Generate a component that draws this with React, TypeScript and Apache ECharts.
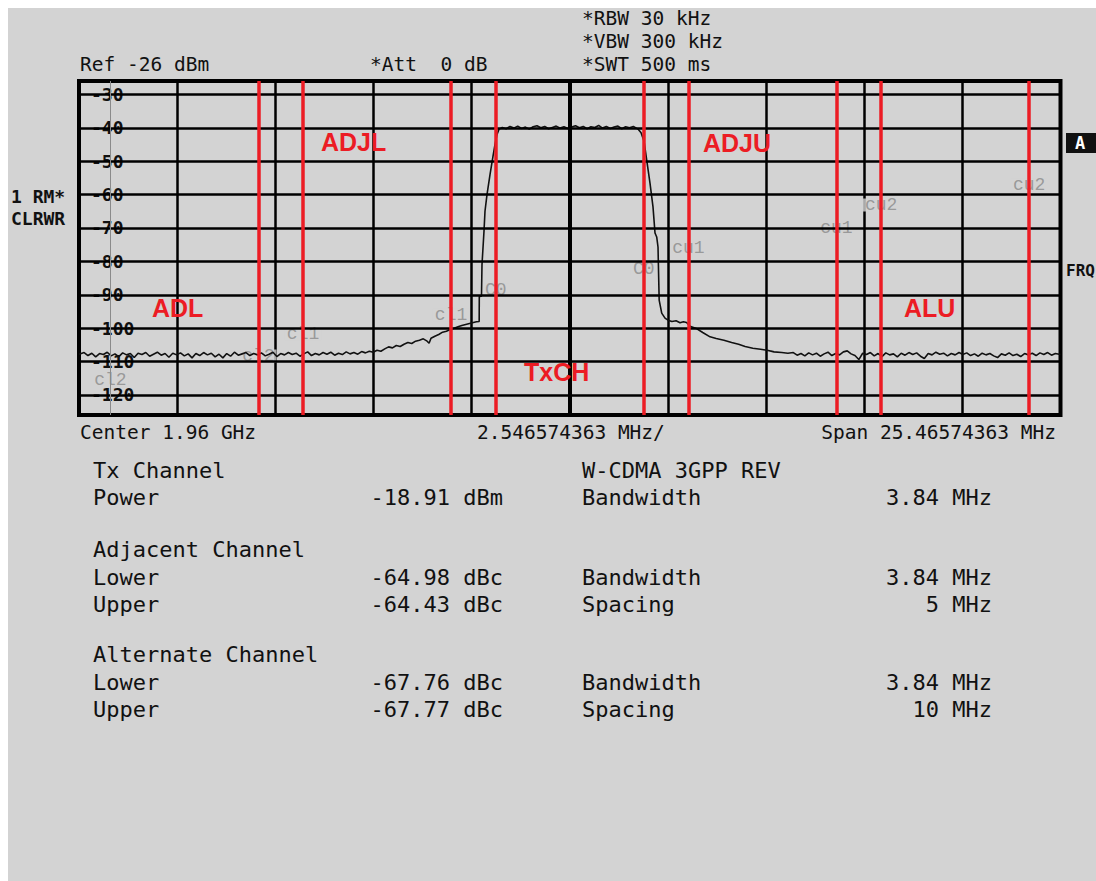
import React, { useEffect, useRef } from "react";
import * as echarts from "echarts";

// Sweep settings (MHz offsets from the 1.96 GHz centre, levels in dBm)
const SPAN_MHZ = 25.46574363;
const DIV_MHZ = 2.546574363;
const REF_DBM = -26;
const BOTTOM_DBM = -126;

const levelTicks = [-30, -40, -50, -60, -70, -80, -90, -100, -110, -120];
// Channel borders of the adjacent / alternate channels (red)
const channelEdges = [-8.08, -6.92, -3.08, -1.92, 1.92, 3.08, 6.92, 8.08, 11.92];
// Outer border of the lower alternate channel (grey)
const outerEdges = [-11.92];

// Trace: [MHz, dBm]
const lowerFloor = [
  [-12.73, -107.8], [-12.6, -107.3], [-12.5, -108.2], [-12.4, -107.5], [-12.3, -108.6],
  [-12.2, -107.6], [-12.1, -107.9], [-12.0, -107.2], [-11.9, -108.3], [-11.8, -107.7],
  [-11.7, -108.5], [-11.6, -107.4], [-11.5, -108.0], [-11.4, -107.6], [-11.3, -108.8],
  [-11.2, -107.5], [-11.1, -107.9], [-11.0, -107.3], [-10.9, -108.4], [-10.8, -107.8],
  [-10.7, -107.2], [-10.6, -108.1], [-10.5, -107.6], [-10.4, -108.7], [-10.3, -107.5],
  [-10.2, -108.0], [-10.1, -107.4], [-10.0, -108.3], [-9.9, -107.7], [-9.8, -108.9],
  [-9.7, -107.6], [-9.6, -108.2], [-9.5, -107.3], [-9.4, -108.0], [-9.3, -107.5],
  [-9.2, -108.6], [-9.1, -107.8], [-9.0, -108.9], [-8.9, -107.6], [-8.8, -108.4],
  [-8.7, -107.2], [-8.6, -108.1], [-8.5, -107.7], [-8.4, -107.3], [-8.3, -108.2],
  [-8.2, -107.6], [-8.1, -108.0], [-8.0, -107.4], [-7.9, -108.3], [-7.8, -107.8],
  [-7.7, -107.2], [-7.6, -108.5], [-7.5, -107.6], [-7.4, -108.0], [-7.3, -107.3],
  [-7.2, -107.9], [-7.1, -107.5], [-7.0, -108.4], [-6.9, -107.7], [-6.8, -107.1],
  [-6.7, -108.2], [-6.6, -107.6], [-6.5, -108.0], [-6.4, -107.3], [-6.3, -107.8],
  [-6.2, -107.2], [-6.1, -108.1], [-6.0, -107.5], [-5.9, -107.9], [-5.8, -107.1],
  [-5.7, -107.7], [-5.6, -107.3], [-5.5, -107.8], [-5.4, -107.0], [-5.3, -107.4],
  [-5.2, -106.9],
];

const txRise = [
  [-5.1, -107.2], [-5.0, -106.6], [-4.9, -106.9], [-4.8, -106.2], [-4.7, -105.6],
  [-4.6, -105.9], [-4.5, -105.2], [-4.4, -105.5], [-4.3, -104.8], [-4.2, -104.3],
  [-4.1, -104.6], [-4.0, -103.9], [-3.9, -103.6], [-3.8, -103.2], [-3.7, -103.9],
  [-3.65, -104.5], [-3.6, -103.0], [-3.5, -102.4], [-3.4, -101.9], [-3.3, -101.2],
  [-3.2, -100.9], [-3.1, -100.4], [-3.0, -100.0], [-2.9, -99.6], [-2.8, -99.2],
  [-2.7, -98.9], [-2.6, -98.6], [-2.5, -98.3], [-2.42, -98.1], [-2.35, -98.0],
  [-2.347, -90.5], [-2.29, -90.4], [-2.277, -81.0], [-2.225, -71.0], [-2.199, -65.0],
  [-2.147, -60.0], [-2.069, -54.0], [-1.991, -48.5], [-1.939, -45.0], [-1.887, -42.0],
  [-1.835, -40.4],
];

const txTop = [
  [-1.75, -39.9], [-1.65, -40.3], [-1.55, -39.6], [-1.45, -40.1], [-1.35, -39.5],
  [-1.25, -40.2], [-1.15, -39.8], [-1.05, -40.4], [-0.95, -39.7], [-0.85, -39.4],
  [-0.75, -40.0], [-0.65, -39.6], [-0.55, -40.3], [-0.45, -39.9], [-0.35, -39.5],
  [-0.25, -40.1], [-0.15, -39.7], [-0.05, -40.2], [0.05, -39.8], [0.15, -39.4],
  [0.25, -40.0], [0.35, -39.6], [0.45, -40.3], [0.55, -39.7], [0.65, -39.9],
  [0.75, -39.3], [0.85, -40.1], [0.95, -39.6], [1.05, -40.2], [1.15, -39.8],
  [1.25, -39.5], [1.35, -40.3], [1.45, -39.7], [1.55, -40.0], [1.65, -39.6],
  [1.77, -40.4],
];

const txFall = [
  [1.85, -41.5], [1.927, -44.0], [1.997, -49.7], [2.082, -56.6], [2.16, -63.7],
  [2.212, -71.5], [2.256, -72.7], [2.29, -75.7], [2.32, -91.6], [2.386, -95.5],
  [2.472, -97.0], [2.549, -97.6], [2.65, -98.0], [2.76, -97.8], [2.86, -98.4],
  [2.95, -98.1], [3.03, -98.3], [3.12, -99.4], [3.3, -100.2], [3.45, -101.3],
  [3.64, -102.6], [3.8, -103.1], [4.0, -103.6], [4.2, -104.3], [4.38, -104.8],
  [4.55, -105.5], [4.75, -106.0], [4.95, -106.3], [5.12, -106.6], [5.3, -107.1],
  [5.5, -107.3], [5.66, -107.5],
];

const upperFloor = [
  [5.8, -107.3], [5.9, -108.1], [6.0, -107.6], [6.1, -108.3], [6.2, -107.4],
  [6.3, -108.0], [6.4, -107.5], [6.5, -108.4], [6.6, -107.7], [6.7, -107.2],
  [6.8, -108.2], [6.9, -107.6], [7.0, -108.0], [7.1, -107.1], [7.2, -106.8],
  [7.3, -107.7], [7.4, -108.2], [7.5, -109.4], [7.6, -107.5], [7.7, -107.9],
  [7.8, -107.3], [7.9, -108.3], [8.0, -107.6], [8.1, -108.5], [8.2, -107.4],
  [8.3, -108.0], [8.4, -107.7], [8.5, -108.6], [8.6, -107.5], [8.7, -108.1],
  [8.8, -107.3], [8.9, -107.9], [9.0, -107.4], [9.1, -108.4], [9.2, -109.1],
  [9.3, -107.6], [9.4, -108.0], [9.5, -107.2], [9.6, -107.8], [9.7, -107.5],
  [9.8, -108.3], [9.9, -107.6], [10.0, -108.0], [10.1, -107.3], [10.2, -107.9],
  [10.3, -107.4], [10.4, -108.2], [10.5, -107.7], [10.6, -108.4], [10.7, -107.5],
  [10.8, -108.0], [10.9, -107.6], [11.0, -108.3], [11.1, -108.8], [11.2, -107.7],
  [11.3, -108.1], [11.4, -107.4], [11.5, -108.2], [11.6, -107.8], [11.7, -108.5],
  [11.8, -107.6], [11.9, -108.0], [12.0, -107.5], [12.1, -108.2], [12.2, -107.4],
  [12.3, -107.9], [12.4, -107.3], [12.5, -108.1], [12.6, -107.6], [12.73, -107.9],
];

// Channel tags drawn by the analyzer at the channel borders
const tagNames = ["cl2", "cl2", "cl1", "cl1", "C0", "C0", "cu1", "cu1", "cu2", "cu2"];
const tagFreq = [-11.92, -8.08, -6.92, -3.08, -1.92, 1.92, 3.08, 6.92, 8.08, 11.92];
const tagLevel = [-115.4, -108.3, -101.7, -96.0, -88.6, -82.3, -76.0, -70.0, -63.1, -57.1];

// Red region annotations: text, left x, centre y (px)
const regionNames = ["ADJL", "ADJU", "ADL", "ALU", "TxCH"];
const regionX = [313, 695, 144, 896, 516];
const regionY = [134, 135, 300, 300, 364];

// Result table
const leftLabels = ["Tx Channel", "Power", "Adjacent Channel", "Lower", "Upper", "Alternate Channel", "Lower", "Upper"];
const leftValues = ["", "-18.91 dBm", "", "-64.98 dBc", "-64.43 dBc", "", "-67.76 dBc", "-67.77 dBc"];
const rightLabels = ["W-CDMA 3GPP REV", "Bandwidth", "", "Bandwidth", "Spacing", "", "Bandwidth", "Spacing"];
const rightValues = ["", "3.84 MHz", "", "3.84 MHz", "5 MHz", "", "3.84 MHz", "10 MHz"];
const rowY = [462, 489, 541, 569, 596, 646, 674, 701];

const BG = "#d3d3d3";
const INK = "#111111";
const RED = "#ec1c24";
const GREY = "#8a8a8a";
const MONO = "'DejaVu Sans Mono', 'Liberation Mono', monospace";
const SANS = "'Liberation Sans', Arial, sans-serif";

function txt(text: string, x: number, y: number, size: number, opts: any = {}) {
  return {
    type: "text",
    x,
    y,
    z: 20,
    silent: true,
    style: {
      text,
      fill: opts.fill || INK,
      fontSize: size,
      fontFamily: opts.family || MONO,
      fontWeight: opts.weight || "normal",
      align: opts.align || "left",
      verticalAlign: "middle",
    },
  };
}

function buildOption() {
  const trace = [...lowerFloor, ...txRise, ...txTop, ...txFall, ...upperFloor];
  const half = SPAN_MHZ / 2;

  const graphics: any[] = [
    txt("Ref -26 dBm", 72, 56, 19.5),
    txt("*Att  0 dB", 362, 56, 19.5),
    txt("*RBW 30 kHz", 574, 10, 19.5),
    txt("*VBW 300 kHz", 574, 33, 19.5),
    txt("*SWT 500 ms", 574, 56, 19.5),
    txt("1 RM*", 3, 188, 18, { weight: "bold" }),
    txt("CLRWR", 3, 210, 18, { weight: "bold" }),
    {
      type: "rect",
      shape: { x: 1058, y: 125, width: 30, height: 20 },
      style: { fill: "#111" },
      z: 20,
    },
    txt("A", 1072, 135, 17, { weight: "bold", fill: "#fff", align: "center" }),
    txt("FRQ", 1058, 262, 16, { weight: "bold" }),
    txt("Center 1.96 GHz", 72, 424, 19.5),
    txt("2.546574363 MHz/", 469, 424, 19.5),
    txt("Span 25.46574363 MHz", 1048, 424, 19.5, { align: "right" }),
  ];

  regionNames.forEach((n, i) => {
    graphics.push(txt(n, regionX[i], regionY[i], 25, { family: SANS, weight: "bold", fill: RED }));
  });

  rowY.forEach((y, i) => {
    if (leftLabels[i]) graphics.push(txt(leftLabels[i], 85, y, 22));
    if (leftValues[i]) graphics.push(txt(leftValues[i], 495, y, 22, { align: "right" }));
    if (rightLabels[i]) graphics.push(txt(rightLabels[i], 574, y, 22));
    if (rightValues[i]) graphics.push(txt(rightValues[i], 984, y, 22, { align: "right" }));
  });

  return {
    animation: false,
    backgroundColor: BG,
    grid: {
      left: 71,
      top: 73,
      width: 981.5,
      height: 334,
      show: true,
      borderColor: "#000",
      borderWidth: 4,
      backgroundColor: "transparent",
    },
    xAxis: {
      type: "value",
      min: -half,
      max: half,
      interval: DIV_MHZ,
      axisLine: { show: false },
      axisTick: { show: false },
      axisLabel: { show: false },
      splitLine: { show: true, lineStyle: { color: "#000", width: 2.5 } },
    },
    yAxis: {
      type: "value",
      min: BOTTOM_DBM,
      max: REF_DBM,
      z: 2,
      axisLine: { show: false },
      axisTick: { show: false },
      splitLine: { show: false },
      axisLabel: {
        show: true,
        inside: true,
        customValues: levelTicks,
        margin: 11,
        color: INK,
        fontFamily: MONO,
        fontSize: 18,
        fontWeight: "bold",
        lineHeight: 15,
        backgroundColor: BG,
        padding: [0, 2, 0, 1],
        formatter: (v: number) => String(v),
      },
    },
    series: [
      {
        name: "levels",
        type: "line",
        data: [],
        z: 1,
        silent: true,
        markLine: {
          silent: true,
          symbol: ["none", "none"],
          label: { show: false },
          lineStyle: { color: "#000", width: 2.5, type: "solid" },
          data: [
            ...levelTicks.map((v) => ({ yAxis: v })),
            { xAxis: 0, lineStyle: { color: "#000", width: 4, type: "solid" } },
          ],
        },
      },
      {
        name: "outer",
        type: "line",
        data: [],
        z: 3,
        silent: true,
        markLine: {
          silent: true,
          symbol: ["none", "none"],
          label: { show: false },
          lineStyle: { color: GREY, width: 1, type: "solid" },
          data: outerEdges.map((v) => ({ xAxis: v })),
        },
      },
      {
        name: "tags",
        type: "scatter",
        z: 3,
        silent: true,
        symbolSize: 0,
        data: tagNames.map((n, i) => ({ name: n, value: [tagFreq[i], tagLevel[i]] })),
        label: {
          show: true,
          position: "inside",
          formatter: "{b}",
          color: GREY,
          fontFamily: "'Liberation Mono', monospace",
          fontSize: 18,
          lineHeight: 13,
          backgroundColor: BG,
          padding: [0, 2],
        },
      },
      {
        name: "Trace 1",
        type: "line",
        z: 4,
        silent: true,
        showSymbol: false,
        data: trace,
        lineStyle: { color: INK, width: 1.6 },
      },
      {
        name: "edges",
        type: "line",
        data: [],
        z: 5,
        silent: true,
        markLine: {
          silent: true,
          symbol: ["none", "none"],
          label: { show: false },
          lineStyle: { color: RED, width: 3.5, type: "solid" },
          data: channelEdges.map((v) => ({ xAxis: v })),
        },
      },
    ],
    graphic: graphics,
  };
}

export default function App() {
  const ref = useRef<HTMLDivElement>(null);
  useEffect(() => {
    if (!ref.current) return;
    const chart = echarts.init(ref.current, null, { renderer: "svg" });
    chart.setOption(buildOption() as any);
    return () => chart.dispose();
  }, []);
  return (
    <div
      ref={ref}
      style={{ position: "fixed", left: 8, top: 8, width: 1088, height: 873 }}
    />
  );
}
